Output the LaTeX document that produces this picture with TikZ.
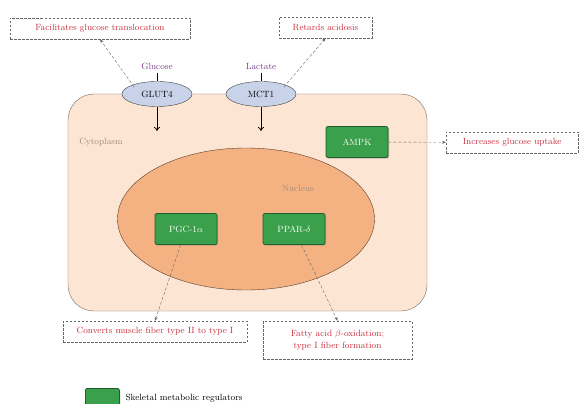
\documentclass[tikz,border=0pt]{standalone}
\usepackage{tikz}
\usepackage{xcolor}
\usetikzlibrary{shapes.geometric,arrows.meta,shadows}

\definecolor{cellfill}{RGB}{253,229,211}
\definecolor{cellline}{RGB}{120,105,95}
\definecolor{nucfill}{RGB}{244,178,130}
\definecolor{nucline}{RGB}{90,60,40}
\definecolor{portfill}{RGB}{200,210,232}
\definecolor{regfill}{RGB}{58,160,75}
\definecolor{regline}{RGB}{30,95,45}
\definecolor{effect}{RGB}{200,45,60}
\definecolor{solute}{RGB}{120,60,140}
\definecolor{region}{RGB}{165,140,125}

\tikzset{
  regulator/.style={draw=regline, fill=regfill, rounded corners=2pt, line width=0.8pt,
    minimum width=62pt, minimum height=31pt, text=white,
    drop shadow={shadow xshift=1pt, shadow yshift=-1.2pt, opacity=0.45}},
  porter/.style={ellipse, draw=black!75, fill=portfill, minimum width=70pt, minimum height=25pt},
  effectbox/.style={draw=black!60, dash pattern=on 2.5pt off 1.5pt, text=effect, align=center, inner sep=3pt},
  link/.style={densely dashed, draw=black!60, -{Stealth[length=4pt,width=3pt]}}
}

\begin{document}
\begin{tikzpicture}[x=1pt, y=-1pt, font=\fontsize{9}{12}\selectfont]
\useasboundingbox (0,0) rectangle (582,404);

% cell and nucleus
\node[draw=cellline, fill=cellfill, rounded corners=26pt, minimum width=359pt, minimum height=217pt] (cell) at (247.5,202.5) {};
\node[ellipse, draw=nucline, fill=nucfill, minimum width=257pt, minimum height=142pt] (nucleus) at (246,219) {};
\node[text=region] (cyto) at (101,142) {Cytoplasm};
\node[text=region] (nuclab) at (298,188) {Nucleus};

% transporters in the membrane
\node[porter] (glut) at (157,94) {GLUT4};
\node[porter] (mct) at (261,94) {MCT1};
\node[text=solute] (glucose) at (157,66) {Glucose};
\node[text=solute] (lactate) at (261,66) {Lactate};
\draw (glucose) -- (glut);
\draw (lactate) -- (mct);
\coordinate (glutin) at (157,131);
\coordinate (mctin) at (261,131);
\draw[-{To[length=4pt,width=6pt]}, thick] (glut) -- (glutin);
\draw[-{To[length=4pt,width=6pt]}, thick] (mct) -- (mctin);

% regulators
\node[regulator] (ampk) at (357,142) {AMPK};
\node[regulator] (pgc) at (186,229) {PGC-1$\alpha$};
\node[regulator] (ppar) at (294,229) {PPAR-$\delta$};

% effects
\node[effectbox, minimum width=180pt, minimum height=21pt] (transloc) at (100,28.5) {Facilitates glucose translocation};
\node[effectbox, minimum width=93pt, minimum height=21pt] (acid) at (325.5,27.5) {Retards acidosis};
\node[effectbox, minimum width=132pt, minimum height=21pt, anchor=west] (uptake) at (446,142.5) {Increases glucose uptake};
\node[effectbox, minimum width=184pt, minimum height=21pt] (convert) at (155,331.5) {Converts muscle fiber type II to type I};
\node[effectbox, minimum width=149pt, minimum height=38pt] (oxid) at (337.5,340) {Fatty acid $\beta$-oxidation;\\type I fiber formation};

\draw[link] (glut.north west) ++(2,2) -- (transloc.south);
\draw[link] (mct.north east) ++(-2,2) -- (acid.south);
\draw[link] (ampk) -- (uptake);
\draw[link] (pgc) -- (convert.north);
\draw[link] (ppar) -- (oxid.north);

% legend
\node[regulator, minimum width=34pt, minimum height=22pt, anchor=north west] (key) at (85,388) {};
\node[anchor=west] (keytext) at (122,398) {Skeletal metabolic regulators};
\end{tikzpicture}
\end{document}
